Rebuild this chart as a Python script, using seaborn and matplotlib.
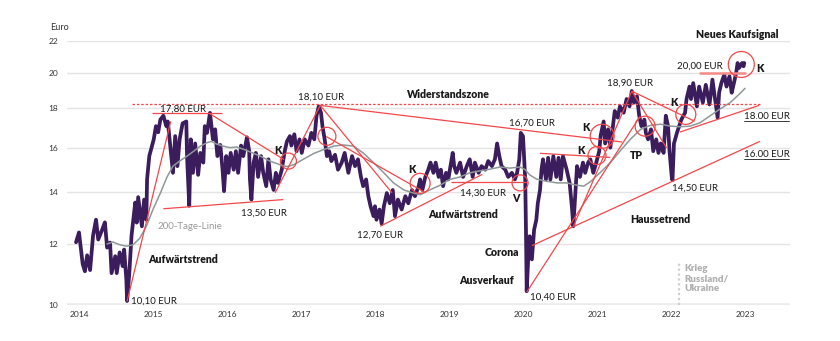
import matplotlib
matplotlib.use("Agg")
import matplotlib.pyplot as plt
from matplotlib.lines import Line2D
import seaborn as sns
import pandas as pd

# ---------------- data ----------------
price_t = [2013.96, 2014.00, 2014.04, 2014.05, 2014.08, 2014.11, 2014.15, 2014.19, 2014.23, 2014.26,
           2014.31, 2014.35, 2014.38, 2014.42, 2014.44, 2014.49, 2014.51, 2014.55, 2014.59, 2014.61,
           2014.64, 2014.65, 2014.68, 2014.71, 2014.76, 2014.78, 2014.80, 2014.85, 2014.88, 2014.91,
           2014.92, 2014.95, 2014.98, 2015.01, 2015.04, 2015.07, 2015.10, 2015.14, 2015.18, 2015.20,
           2015.23, 2015.27, 2015.30, 2015.33, 2015.36, 2015.40, 2015.45, 2015.46, 2015.49, 2015.51,
           2015.54, 2015.57, 2015.61, 2015.64, 2015.68, 2015.70, 2015.73, 2015.77, 2015.81, 2015.84,
           2015.87, 2015.91, 2015.94, 2015.96, 2015.99, 2016.02, 2016.05, 2016.09, 2016.12, 2016.15,
           2016.19, 2016.22, 2016.27, 2016.30, 2016.31, 2016.33, 2016.36, 2016.39, 2016.42, 2016.46,
           2016.49, 2016.53, 2016.56, 2016.59, 2016.63, 2016.66, 2016.69, 2016.74, 2016.78, 2016.81,
           2016.85, 2016.87, 2016.91, 2016.94, 2016.98, 2017.01, 2017.05, 2017.10, 2017.14, 2017.18,
           2017.21, 2017.24, 2017.27, 2017.29, 2017.32, 2017.35, 2017.38, 2017.41, 2017.46, 2017.50,
           2017.55, 2017.59, 2017.64, 2017.69, 2017.73, 2017.77, 2017.81, 2017.84, 2017.88, 2017.91,
           2017.94, 2017.98, 2018.00, 2018.02, 2018.06, 2018.09, 2018.12, 2018.16, 2018.20, 2018.24,
           2018.27, 2018.31, 2018.36, 2018.41, 2018.45, 2018.50, 2018.54, 2018.59, 2018.61, 2018.64,
           2018.68, 2018.72, 2018.75, 2018.79, 2018.82, 2018.86, 2018.89, 2018.92, 2018.96, 2018.99,
           2019.02, 2019.05, 2019.07, 2019.10, 2019.15, 2019.19, 2019.24, 2019.28, 2019.32, 2019.35,
           2019.40, 2019.44, 2019.49, 2019.53, 2019.58, 2019.62, 2019.65, 2019.68, 2019.71, 2019.76,
           2019.80, 2019.85, 2019.89, 2019.92, 2019.95, 2019.97, 2020.00, 2020.03, 2020.04, 2020.05,
           2020.07, 2020.09, 2020.12, 2020.15, 2020.18, 2020.20, 2020.23, 2020.25, 2020.27, 2020.31,
           2020.34, 2020.37, 2020.41, 2020.45, 2020.48, 2020.51, 2020.54, 2020.59, 2020.63, 2020.66,
           2020.68, 2020.71, 2020.73, 2020.77, 2020.81, 2020.84, 2020.88, 2020.91, 2020.95, 2020.99,
           2021.03, 2021.05, 2021.09, 2021.11, 2021.15, 2021.18, 2021.22, 2021.24, 2021.28, 2021.31,
           2021.36, 2021.40, 2021.44, 2021.47, 2021.50, 2021.54, 2021.57, 2021.60, 2021.64, 2021.66,
           2021.69, 2021.73, 2021.76, 2021.80, 2021.83, 2021.86, 2021.90, 2021.93, 2021.96, 2021.98,
           2022.01, 2022.02, 2022.04, 2022.08, 2022.11, 2022.14, 2022.19, 2022.21, 2022.25, 2022.27,
           2022.30, 2022.35, 2022.38, 2022.43, 2022.47, 2022.52, 2022.56, 2022.59, 2022.63, 2022.65,
           2022.68, 2022.72, 2022.75, 2022.79, 2022.82, 2022.85, 2022.88, 2022.90, 2022.92, 2022.96,
           2022.98, 2022.99]
price_v = [12.06, 12.42, 11.50, 11.30, 11.06, 11.60, 11.10, 12.30, 12.90, 12.16,
           12.50, 12.80, 11.87, 12.05, 11.00, 11.57, 11.00, 11.70, 11.23, 11.80,
           10.79, 10.12, 11.00, 12.30, 13.58, 12.79, 13.80, 12.65, 13.70, 12.90,
           14.55, 15.60, 16.00, 16.40, 17.06, 16.75, 17.40, 17.60, 17.06, 17.30,
           16.20, 14.84, 16.56, 15.14, 16.40, 17.20, 17.30, 15.60, 13.45, 16.40,
           14.84, 16.20, 14.75, 15.75, 15.30, 17.06, 16.72, 17.75, 16.40, 16.90,
           15.60, 16.13, 14.98, 14.05, 15.60, 14.84, 15.75, 14.98, 15.83, 14.84,
           16.10, 15.60, 16.50, 15.83, 14.55, 13.70, 15.30, 15.75, 14.66, 15.60,
           14.84, 14.26, 15.45, 14.55, 14.10, 14.84, 14.40, 14.98, 15.83, 16.30,
           16.56, 16.10, 16.65, 15.83, 16.40, 15.75, 16.40, 16.10, 16.72, 16.40,
           17.60, 18.10, 17.76, 17.06, 16.40, 15.60, 15.83, 15.37, 15.66, 14.98,
           15.30, 15.75, 14.84, 15.60, 15.14, 15.45, 14.66, 14.26, 14.55, 13.84,
           13.43, 13.04, 13.43, 12.90, 13.30, 12.75, 13.43, 13.97, 13.55, 14.10,
           13.04, 13.70, 13.30, 13.84, 13.55, 14.10, 13.84, 14.26, 14.55, 14.10,
           14.66, 14.98, 15.30, 14.84, 15.30, 14.66, 14.98, 14.26, 14.84, 14.55,
           15.14, 15.75, 15.14, 14.84, 15.30, 14.66, 15.14, 15.45, 14.66, 15.30,
           14.84, 15.14, 14.98, 15.37, 15.14, 15.45, 16.20, 15.60, 15.14, 14.98,
           14.66, 14.84, 14.55, 14.84, 15.45, 16.72, 16.56, 14.55, 12.52, 10.42,
           11.46, 12.28, 11.46, 12.52, 12.90, 13.55, 14.10, 14.98, 15.45, 14.55,
           15.52, 14.55, 15.60, 14.66, 15.52, 14.55, 15.60, 14.98, 14.40, 13.43,
           12.65, 14.10, 15.14, 14.66, 15.30, 14.84, 15.30, 15.45, 14.84, 15.30,
           15.83, 16.60, 17.30, 16.20, 16.90, 16.00, 17.20, 17.85, 17.50, 18.10,
           17.76, 18.50, 18.10, 18.95, 18.30, 18.65, 17.60, 17.06, 17.40, 16.72,
           16.40, 16.90, 15.83, 16.40, 15.75, 16.20, 15.75, 17.60, 17.06, 15.83,
           14.66, 14.52, 16.20, 16.72, 17.06, 17.40, 17.76, 18.50, 19.20, 18.50,
           19.40, 18.10, 19.20, 18.30, 19.30, 18.20, 19.60, 18.65, 17.50, 18.85,
           19.40, 19.90, 19.20, 19.80, 18.85, 19.40, 20.00, 20.60, 20.30, 20.60,
           20.40, 20.60]

ma_t = [2014.38, 2014.46, 2014.55, 2014.64, 2014.73, 2014.82, 2014.91, 2015.00, 2015.10, 2015.19,
        2015.27, 2015.36, 2015.46, 2015.55, 2015.64, 2015.73, 2015.79, 2015.86, 2015.95, 2016.04,
        2016.13, 2016.22, 2016.31, 2016.45, 2016.58, 2016.72, 2016.81, 2016.90, 2017.03, 2017.17,
        2017.30, 2017.44, 2017.57, 2017.71, 2017.84, 2017.98, 2018.12, 2018.25, 2018.39, 2018.52,
        2018.61, 2018.74, 2018.88, 2019.01, 2019.15, 2019.28, 2019.42, 2019.55, 2019.69, 2019.82,
        2019.96, 2020.03, 2020.09, 2020.18, 2020.32, 2020.46, 2020.59, 2020.73, 2020.82, 2020.91,
        2021.04, 2021.18, 2021.31, 2021.45, 2021.59, 2021.72, 2021.86, 2021.99, 2022.12, 2022.26,
        2022.39, 2022.53, 2022.66, 2022.80, 2022.93, 2023.00]
ma_v = [12.00, 12.07, 11.97, 11.92, 11.97, 12.20, 12.65, 13.30, 13.97, 14.66,
        15.14, 15.37, 15.60, 15.83, 16.07, 16.24, 16.30, 16.17, 16.07, 16.00,
        16.03, 15.93, 15.80, 15.60, 15.37, 15.20, 15.12, 15.20, 15.45, 15.72,
        15.90, 16.07, 16.13, 16.07, 15.75, 15.30, 14.84, 14.40, 14.10, 13.97,
        13.90, 14.10, 14.30, 14.55, 14.66, 14.84, 14.93, 15.00, 15.10, 15.05,
        15.10, 14.98, 14.75, 14.57, 14.47, 14.40, 14.40, 14.30, 14.26, 14.45,
        14.84, 15.30, 15.83, 16.40, 16.90, 17.10, 17.16, 17.06, 17.03, 17.06,
        17.23, 17.60, 17.95, 18.30, 18.80, 19.10]

# trend lines: (start year, start price, end year, end price)
trend_t0 = [2014.65, 2014.98, 2015.77, 2015.14, 2016.65, 2017.26, 2017.26, 2017.34, 2018.07,
            2019.03, 2020.05, 2020.68, 2020.12, 2021.47, 2021.47, 2022.12, 2020.23]
trend_p0 = [10.11, 17.75, 17.70, 13.33, 13.98, 18.15, 18.15, 16.54, 12.65,
            14.42, 10.39, 12.64, 11.94, 18.94, 18.94, 16.76, 15.73]
trend_t1 = [2015.24, 2015.93, 2016.77, 2016.76, 2017.26, 2021.34, 2018.23, 2018.68, 2019.45,
            2020.05, 2021.58, 2021.47, 2023.20, 2021.94, 2022.32, 2023.19, 2021.18]
trend_p1 = [17.31, 17.75, 15.44, 13.70, 18.15, 16.27, 13.98, 13.99, 14.77,
            14.42, 17.56, 18.94, 16.30, 15.99, 17.31, 18.15, 15.54]

resist_t = [2014.72, 2023.20]
resist_p = [18.24, 18.24]
signal_t = [2022.39, 2023.00]
signal_p = [20.00, 20.00]

circle_t = [2016.83, 2017.35, 2018.61, 2019.96, 2021.07, 2021.00, 2021.65, 2022.20, 2022.95]
circle_p = [15.37, 16.55, 14.38, 14.40, 16.55, 15.63, 17.06, 17.67, 20.51]
circle_r = [8, 9, 10, 8, 12, 9, 10, 10, 13]

war_t = 2022.11
years = list(range(2014, 2024))
yticks = [10, 12, 14, 16, 18, 20, 22]

# ---------------- style ----------------
sns.set_style("white")
plt.rcParams['font.family'] = ['Lato', 'DejaVu Sans']

W, H = 840, 341
fig = plt.figure(figsize=(W / 100, H / 100), dpi=100)
ax = fig.add_axes([67 / W, 36 / H, 723 / W, 264 / H])
ax.set_yscale('log')
ax.set_ylim(10, 22)
ax.set_xlim(2013.838, 2023.608)
for s in ax.spines.values():
    s.set_visible(False)
ax.set_yticks(yticks)
ax.set_yticklabels([str(v) for v in yticks])
ax.yaxis.set_minor_locator(matplotlib.ticker.NullLocator())
ax.set_xticks(years)
ax.set_xticklabels([str(y) for y in years])
ax.tick_params(axis='both', length=0, labelsize=6, labelcolor='#333333')
ax.tick_params(axis='y', pad=6.5)
ax.tick_params(axis='x', pad=4)
ax.grid(axis='y', color='#e4e4e4', lw=1)
ax.grid(axis='x', visible=False)
ax.axhline(10, color='#ebebeb', lw=2.6, zorder=1)

RED = '#f4474a'
PURPLE = '#3b1c5c'

# price
dfp = pd.DataFrame({'t': price_t, 'p': price_v})
sns.lineplot(data=dfp, x='t', y='p', ax=ax, color=PURPLE, lw=2.7, estimator=None, sort=False, zorder=3)
# 200 day line
dfm = pd.DataFrame({'t': ma_t, 'p': ma_v})
sns.lineplot(data=dfm, x='t', y='p', ax=ax, color='#8e9898', lw=1.1, estimator=None, sort=False, zorder=4)

# trend lines
for a, b, c, d in zip(trend_t0, trend_p0, trend_t1, trend_p1):
    ax.plot([a, c], [b, d], color=RED, lw=0.9, zorder=5, solid_capstyle='butt')
ax.plot(resist_t, resist_p, color=RED, lw=0.9, ls=(0, (2, 1.5)), zorder=5)
ax.plot(signal_t, signal_p, color='#f58a86', lw=1.8, zorder=5)

# circles
for t, p, r in zip(circle_t, circle_p, circle_r):
    ax.scatter([t], [p], s=(2 * r * 0.72) ** 2, facecolors='none', edgecolors=RED, linewidths=0.9, zorder=6)

# war line
ax.plot([war_t, war_t], [10, 11.35], color='#cfcfcf', lw=1.6, ls=(0, (1, 1.2)), zorder=2)
ax.set_xlabel('')
ax.set_ylabel('')


def T(x, y, s, size=7, weight='normal', color='#1a1a1a', ha='center', **kw):
    fig.text(x / W, 1 - y / H, s, fontsize=size, fontweight=weight, color=color,
             ha=ha, va='center', **kw)


T(50, 27, 'Euro', size=6.5, ha='left', color='#333333')
# price labels
T(183, 109.5, '17,80 EUR')
T(320.7, 96.7, '18,10 EUR')
T(264, 212.7, '13,50 EUR')
T(154, 300.7, '10,10 EUR')
T(380, 235.5, '12,70 EUR')
T(483, 193.3, '14,30 EUR')
T(531.7, 123.3, '16,70 EUR')
T(552.7, 296.7, '10,40 EUR')
T(630, 83.3, '18,90 EUR')
T(695, 188.3, '14,50 EUR')
T(700, 66.5, '20,00 EUR')
T(744.3, 116.2, '18.00 EUR', ha='left')
T(744.3, 154.0, '16.00 EUR', ha='left')
for yy in (120.8, 158.7):
    fig.add_artist(Line2D([744.3 / W, 788.5 / W], [1 - yy / H, 1 - yy / H], color='#1a1a1a', lw=0.6))
T(190, 226.7, '200-Tage-Linie', color='#9a9a9a')

# bold labels
B = dict(size=7.6, weight='heavy')
T(183.3, 259.3, 'Aufwärtstrend', **B)
T(448.3, 95, 'Widerstandszone', **B)
T(462.7, 214, 'Aufwärtstrend', **B)
T(519, 252.7, 'Corona', ha='right', **B)
T(486.7, 280.7, 'Ausverkauf', **B)
T(660, 219.3, 'Haussetrend', **B)
T(737.7, 34.3, 'Neues Kaufsignal', **B)
T(277.7, 150.7, 'K', **B)
T(411.7, 169.3, 'K', **B)
T(516, 199, 'V', **B)
T(586, 127.3, 'K', **B)
T(580.7, 150.7, 'K', **B)
T(636.5, 155.5, 'TP', **B)
T(674.3, 102.3, 'K', **B)
T(760, 68.3, 'K', **B)
for i, line in enumerate(['Krieg', 'Russland/', 'Ukraine']):
    T(684.3, 268.7 + 10 * i, line, size=7, weight='heavy', color='#b0b0b0', ha='left')

fig.savefig('out.png', dpi=100)
